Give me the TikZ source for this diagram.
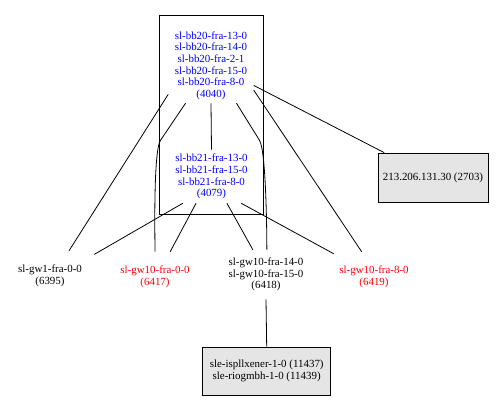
\documentclass[tikz,border=0pt]{standalone}
\usepackage{fontspec}
\setmainfont{Liberation Serif}
\usepackage{tikz}
\usetikzlibrary{positioning}

\definecolor{gvblue}{RGB}{0,0,255}
\definecolor{gvred}{RGB}{255,0,0}
\definecolor{gvgray}{RGB}{229,229,229}

\newcommand{\gvfont}{\fontsize{8.2pt}{8.75pt}\selectfont}

\tikzset{
    lbl/.style={inner sep=0pt,align=center,font=\gvfont},
    bbnode/.style={lbl,text=gvblue,minimum width=63.75pt},
    gwnode/.style={lbl,minimum width=60pt,minimum height=37.5pt},
    boxnode/.style={lbl,draw,fill=gvgray,line width=0.6pt},
    link/.style={line width=0.6pt}
}

\begin{document}
\begin{tikzpicture}[x=0.75pt,y=0.75pt]
\useasboundingbox (0,0) rectangle (501,-409);

% cluster
\draw[line width=0.6pt] (159,-15) rectangle (263,-214);

% core routers
\node[bbnode,minimum height=56.25pt] (bb20) at (211,-65.5)
    {sl-bb20-fra-13-0\\sl-bb20-fra-14-0\\sl-bb20-fra-2-1\\sl-bb20-fra-15-0\\sl-bb20-fra-8-0\\(4040)};
\node[bbnode,minimum height=39.75pt] (bb21) at (211.5,-176.5)
    {sl-bb21-fra-13-0\\sl-bb21-fra-15-0\\sl-bb21-fra-8-0\\(4079)};

% gateways
\node[gwnode,minimum width=66pt] (gw1) at (50,-276) {sl-gw1-fra-0-0\\(6395)};
\node[gwnode,text=gvred] (gw10a) at (155,-277) {sl-gw10-fra-0-0\\(6417)};
\node[gwnode,minimum width=66pt,minimum height=36.75pt] (gw10b) at (266,-274.5)
    {sl-gw10-fra-14-0\\sl-gw10-fra-15-0\\(6418)};
\node[gwnode,text=gvred] (gw10c) at (374,-277) {sl-gw10-fra-8-0\\(6419)};

% external boxes
\node[boxnode,minimum width=82.5pt,minimum height=36.75pt] (ext) at (433,-177.5)
    {213.206.131.30 (2703)};
\node[boxnode,minimum width=96pt,minimum height=36pt] (cust) at (266.7,-371)
    {sle-ispllxener-1-0 (11437)\\sle-riogmbh-1-0 (11439)};

% links
\draw[link] (bb20.south) -- (bb21.north);
\draw[link] (bb20.214) -- (gw1.53);
\draw[link] (bb20.236) -- ++(-25,-37) to[out=-124,in=90,looseness=0.3] (gw10a.90);
\draw[link] (bb20.304) -- ++(23,-37) to[out=-58,in=90,looseness=0.3] (gw10b.88);
\draw[link] (bb20.335) -- (ext.153);
\draw[link] (bb20.330) -- (gw10c.116);
\draw[link] (bb21.223) -- (gw1.26);
\draw[link] (bb21.240) -- (gw10a.59);
\draw[link] (bb21.300) -- (gw10b.118);
\draw[link] (bb21.318) -- (gw10c.150);
\draw[link] (gw10b.south) -- (cust.north);
\end{tikzpicture}
\end{document}
